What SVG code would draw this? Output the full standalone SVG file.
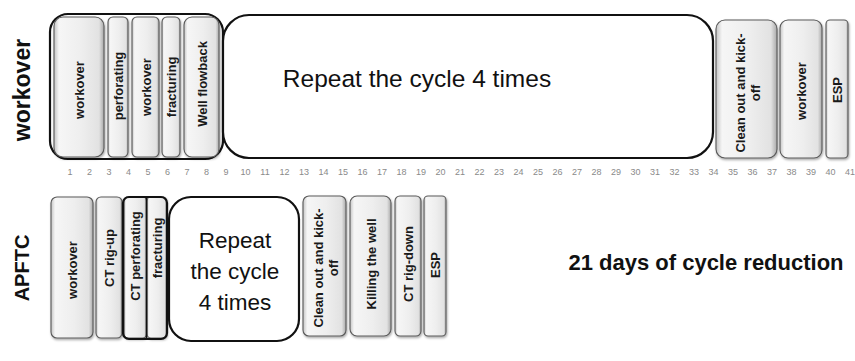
<svg xmlns="http://www.w3.org/2000/svg" width="855" height="361" viewBox="0 0 855 361">
<style>
.bx{fill:url(#g);stroke:#5a5a5a;stroke-width:1.1;filter:url(#sh)}
.bt{font-family:"Liberation Sans",Arial,sans-serif;font-weight:bold;font-size:13px;fill:#1a1a1a;text-anchor:middle}
.grp{fill:none;stroke:#111;stroke-width:2.2}
.big{fill:#fff;stroke:#111;stroke-width:2.2}
.rep{font-family:"Liberation Sans",Arial,sans-serif;font-size:22.5px;fill:#111;text-anchor:middle}
.lab{font-family:"Liberation Sans",Arial,sans-serif;font-weight:bold;font-size:19px;fill:#111;text-anchor:middle}
.num{font-family:"Liberation Sans",Arial,sans-serif;font-size:9px;fill:#8a8a8a;text-anchor:middle}
</style>
<defs>
<linearGradient id="g" x1="0" y1="0" x2="1" y2="0">
<stop offset="0" stop-color="#c4c4c4"/>
<stop offset="0.1" stop-color="#f6f6f6"/>
<stop offset="0.55" stop-color="#eeeeee"/>
<stop offset="0.9" stop-color="#e2e2e2"/>
<stop offset="1" stop-color="#a9a9a9"/>
</linearGradient>
<filter id="sh" x="-20%" y="-5%" width="140%" height="112%">
<feDropShadow dx="0.8" dy="1.5" stdDeviation="0.8" flood-color="#000" flood-opacity="0.35"/>
</filter>
</defs>

<!-- row labels -->
<text class="lab" transform="translate(30,90) rotate(-90)" style="font-size:23px">workover</text>
<text class="lab" transform="translate(29,268) rotate(-90)" style="font-size:20px">APFTC</text>

<!-- top row -->
<g id="top-group-outline"><rect class="grp" x="50" y="14" width="173" height="145" rx="18"/></g>
<g id="t-workover1"><rect class="bx" x="54" y="17" width="50" height="140" rx="9"/><text class="bt" transform="translate(79,90) rotate(-90)" y="5">workover</text></g>
<g id="t-perforating"><rect class="bx" x="108" y="17" width="20" height="140" rx="5"/><text class="bt" transform="translate(118,86) rotate(-90)" y="5">perforating</text></g>
<g id="t-workover2"><rect class="bx" x="132" y="17" width="27" height="140" rx="5"/><text class="bt" transform="translate(145.5,87) rotate(-90)" y="5">workover</text></g>
<g id="t-fracturing"><rect class="bx" x="162" y="17" width="18" height="140" rx="5"/><text class="bt" transform="translate(171,87) rotate(-90)" y="5">fracturing</text></g>
<g id="t-flowback"><rect class="bx" x="184" y="17" width="35" height="140" rx="8"/><text class="bt" transform="translate(201.5,84) rotate(-90)" y="5">Well flowback</text></g>
<g id="t-repeat"><rect class="big" x="223" y="15" width="490" height="143" rx="26"/><text class="rep" x="417" y="87" style="font-size:24.5px">Repeat the cycle 4 times</text></g>
<g id="t-cleanout"><rect class="bx" x="716" y="20" width="61" height="138" rx="9"/><text class="bt" transform="translate(746.5,93) rotate(-90)" y="-2">Clean out and kick-<tspan x="0" dy="15">off</tspan></text></g>
<g id="t-workover3"><rect class="bx" x="780" y="20" width="42" height="138" rx="8"/><text class="bt" transform="translate(801,91) rotate(-90)" y="5">workover</text></g>
<g id="t-esp"><rect class="bx" x="826" y="20" width="22" height="138" rx="4"/><text class="bt" transform="translate(837,90) rotate(-90)" y="5">ESP</text></g>

<!-- day numbers -->
<g id="days">
<text class="num" x="70" y="175">1</text><text class="num" x="89.5" y="175">2</text><text class="num" x="109" y="175">3</text><text class="num" x="128.5" y="175">4</text><text class="num" x="148" y="175">5</text><text class="num" x="167.5" y="175">6</text><text class="num" x="187" y="175">7</text><text class="num" x="206.5" y="175">8</text><text class="num" x="226" y="175">9</text><text class="num" x="245.5" y="175">10</text><text class="num" x="265" y="175">11</text><text class="num" x="284.5" y="175">12</text><text class="num" x="304" y="175">13</text><text class="num" x="323.5" y="175">14</text><text class="num" x="343" y="175">15</text><text class="num" x="362.5" y="175">16</text><text class="num" x="382" y="175">17</text><text class="num" x="401.5" y="175">18</text><text class="num" x="421" y="175">19</text><text class="num" x="440.5" y="175">20</text><text class="num" x="460" y="175">21</text><text class="num" x="479.5" y="175">22</text><text class="num" x="499" y="175">23</text><text class="num" x="518.5" y="175">24</text><text class="num" x="538" y="175">25</text><text class="num" x="557.5" y="175">26</text><text class="num" x="577" y="175">27</text><text class="num" x="596.5" y="175">28</text><text class="num" x="616" y="175">29</text><text class="num" x="635.5" y="175">30</text><text class="num" x="655" y="175">31</text><text class="num" x="674.5" y="175">32</text><text class="num" x="694" y="175">33</text><text class="num" x="713.5" y="175">34</text><text class="num" x="733" y="175">35</text><text class="num" x="752.5" y="175">36</text><text class="num" x="772" y="175">37</text><text class="num" x="791.5" y="175">38</text><text class="num" x="811" y="175">39</text><text class="num" x="830.5" y="175">40</text><text class="num" x="850" y="175">41</text>
</g>

<!-- bottom row -->
<g id="b-workover"><rect class="bx" x="51" y="197" width="42" height="141" rx="6"/><text class="bt" transform="translate(72,270) rotate(-90)" y="5">workover</text></g>
<g id="b-ctrigup"><rect class="bx" x="96" y="197" width="26" height="141" rx="5"/><text class="bt" transform="translate(109,258) rotate(-90)" y="5">CT rig-up</text></g>
<g id="b-ctperf"><rect class="bx" x="124" y="197" width="22.5" height="141" rx="4"/><text class="bt" transform="translate(135,256) rotate(-90)" y="5">CT perforating</text></g>
<g id="b-fracturing"><rect class="bx" x="147" y="197" width="19.5" height="141" rx="4"/><text class="bt" transform="translate(156.8,248) rotate(-90)" y="5">fracturing</text></g>
<g id="b-group-outline"><rect class="grp" x="123" y="197" width="44" height="142" rx="6"/><line x1="146.5" y1="197" x2="146.5" y2="339" stroke="#111" stroke-width="1.6"/></g>
<g id="b-repeat"><rect class="big" x="169" y="197" width="130" height="144" rx="22"/><text class="rep" x="235" y="248">Repeat</text><text class="rep" x="235" y="279">the cycle</text><text class="rep" x="235" y="310">4 times</text></g>
<g id="b-cleanout"><rect class="bx" x="303" y="196" width="43" height="140" rx="6"/><text class="bt" transform="translate(324.5,268) rotate(-90)" y="-2">Clean out and kick-<tspan x="0" dy="15">off</tspan></text></g>
<g id="b-killing"><rect class="bx" x="350" y="196" width="41" height="140" rx="7"/><text class="bt" transform="translate(370.5,264) rotate(-90)" y="5">Killing the well</text></g>
<g id="b-ctrigdown"><rect class="bx" x="395" y="196" width="26" height="140" rx="5"/><text class="bt" transform="translate(408,264) rotate(-90)" y="5">CT rig-down</text></g>
<g id="b-esp"><rect class="bx" x="424" y="196" width="22" height="140" rx="4"/><text class="bt" transform="translate(435,265) rotate(-90)" y="5">ESP</text></g>

<text class="lab" x="706" y="270" style="font-size:22px">21 days of cycle reduction</text>
</svg>
